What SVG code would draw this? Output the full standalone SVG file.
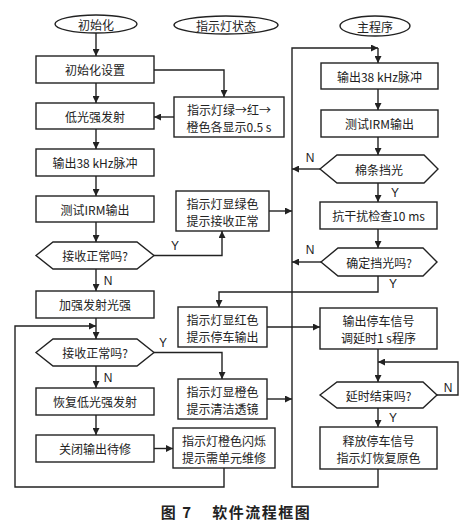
<svg xmlns="http://www.w3.org/2000/svg" width="467" height="526" viewBox="0 0 467 526">
<style>
.n{fill:#fff;stroke:#222;stroke-width:1.4}
.c{fill:none;stroke:#222;stroke-width:1.4}
text{font-family:"Noto Sans CJK SC","Liberation Serif",sans-serif;font-size:12px;fill:#222;text-anchor:middle;dominant-baseline:central}
.l{font-family:"Liberation Sans",sans-serif;font-size:12px}
.cap{font-size:15px;font-weight:bold;letter-spacing:1.5px}
</style>
<defs>
<marker id="a" viewBox="0 0 10 10" refX="10" refY="5" markerWidth="7" markerHeight="7" orient="auto" markerUnits="userSpaceOnUse">
<path d="M0,0 L10,5 L0,10 z" fill="#222"/>
</marker>
</defs>
<rect width="467" height="526" fill="#fff"/>
<g id="connectors" class="c" marker-end="url(#a)">
<path d="M96,33 V56"/>
<path d="M96,83 V103"/>
<path d="M96,129 V149"/>
<path d="M96,176 V196"/>
<path d="M96,222 V242"/>
<path d="M96,269 V291"/>
<path d="M96,318 V339"/>
<path d="M96,366 V388"/>
<path d="M96,415 V435"/>
<path d="M154,448.5 H173"/>
<path d="M154,70 H224 V97"/>
<path d="M174,117 H154"/>
<path d="M154,255.5 H222 V231"/>
<path d="M269,211 H292"/>
<path d="M154,352.5 H222 V379"/>
<path d="M267,327 H320"/>
<path d="M267,399 H292"/>
<path d="M224,468 V487 H15 V326 H96"/>
<path d="M378,469 V487 H292 V48 H378"/>
<path d="M378,48 V63"/>
<path d="M378,89 V110"/>
<path d="M378,137 V155"/>
<path d="M320,169 H292"/>
<path d="M378,183 V202"/>
<path d="M378,229 V248"/>
<path d="M321,262 H292"/>
<path d="M378,276 V292 H219 V307"/>
<path d="M378,349 V382"/>
<path d="M437,395 H458 V362 H378"/>
<path d="M378,408 V427"/>
</g>
<g id="labels">
<text class="l" x="108" y="281">N</text>
<text class="l" x="108" y="378">N</text>
<text class="l" x="175" y="246">Y</text>
<text class="l" x="163" y="343">Y</text>
<text class="l" x="310" y="158">N</text>
<text class="l" x="395" y="193">Y</text>
<text class="l" x="310" y="250">N</text>
<text class="l" x="393" y="284">Y</text>
<text class="l" x="448" y="388">N</text>
<text class="l" x="393" y="418">Y</text>
</g>
<g id="start-init"><ellipse class="n" cx="96" cy="24" rx="41" ry="9"/><text x="96" y="24">初始化</text></g>
<g id="start-led"><ellipse class="n" cx="226" cy="25" rx="52" ry="9"/><text x="226" y="25">指示灯状态</text></g>
<g id="start-main"><ellipse class="n" cx="375" cy="26" rx="35" ry="10"/><text x="375" y="26">主程序</text></g>
<g id="b1"><rect class="n" x="36" y="56" width="118" height="27"/><text x="95" y="69.5">初始化设置</text></g>
<g id="b2"><rect class="n" x="36" y="103" width="118" height="26"/><text x="95" y="116">低光强发射</text></g>
<g id="b3"><rect class="n" x="36" y="149" width="118" height="27"/><text x="95" y="162.5">输出38 kHz脉冲</text></g>
<g id="b4"><rect class="n" x="36" y="196" width="118" height="26"/><text x="95" y="209">测试IRM输出</text></g>
<g id="d1"><polygon class="n" points="36,255.5 53,242 137,242 154,255.5 137,269 53,269"/><text x="95" y="255.5">接收正常吗?</text></g>
<g id="b5"><rect class="n" x="36" y="291" width="118" height="27"/><text x="95" y="304.5">加强发射光强</text></g>
<g id="d2"><polygon class="n" points="36,352.5 53,339 137,339 154,352.5 137,366 53,366"/><text x="95" y="352.5">接收正常吗?</text></g>
<g id="b6"><rect class="n" x="36" y="388" width="118" height="27"/><text x="95" y="401.5">恢复低光强发射</text></g>
<g id="b7"><rect class="n" x="36" y="435" width="118" height="27"/><text x="95" y="448.5">关闭输出待修</text></g>
<g id="m1"><rect class="n" x="174" y="97" width="110" height="40"/><text x="229" y="109">指示灯绿→红→</text><text x="229" y="126">橙色各显示0.5 s</text></g>
<g id="m2"><rect class="n" x="176" y="191" width="93" height="40"/><text x="222.5" y="203">指示灯显绿色</text><text x="222.5" y="220">提示接收正常</text></g>
<g id="m3"><rect class="n" x="178" y="307" width="89" height="40"/><text x="222.5" y="319">指示灯显红色</text><text x="222.5" y="336">提示停车输出</text></g>
<g id="m4"><rect class="n" x="178" y="379" width="89" height="40"/><text x="222.5" y="391">指示灯显橙色</text><text x="222.5" y="408">提示清洁透镜</text></g>
<g id="m5"><rect class="n" x="173" y="428" width="102" height="40"/><text x="224" y="440">指示灯橙色闪烁</text><text x="224" y="457">提示需单元维修</text></g>
<g id="r1"><rect class="n" x="321" y="63" width="117" height="26"/><text x="379.5" y="76">输出38 kHz脉冲</text></g>
<g id="r2"><rect class="n" x="321" y="110" width="117" height="27"/><text x="379.5" y="123.5">测试IRM输出</text></g>
<g id="rd1"><polygon class="n" points="320,169 337,155 424,155 438,169 424,183 337,183"/><text x="379" y="169">棉条挡光</text></g>
<g id="r3"><rect class="n" x="320" y="202" width="117" height="27"/><text x="378.5" y="215.5">抗干扰检查10 ms</text></g>
<g id="rd2"><polygon class="n" points="321,262 338,248 423,248 437,262 423,276 338,276"/><text x="379" y="262">确定挡光吗?</text></g>
<g id="r4"><rect class="n" x="320" y="308" width="117" height="41"/><text x="378.5" y="320">输出停车信号</text><text x="378.5" y="337">调延时1 s程序</text></g>
<g id="rd3"><polygon class="n" points="320,395 337,382 423,382 437,395 423,408 337,408"/><text x="378.5" y="395">延时结束吗?</text></g>
<g id="r5"><rect class="n" x="320" y="427" width="117" height="42"/><text x="378.5" y="440">释放停车信号</text><text x="378.5" y="457">指示灯恢复原色</text></g>
<text class="cap" x="236" y="511" xml:space="preserve">图 7    软件流程框图</text>
</svg>
